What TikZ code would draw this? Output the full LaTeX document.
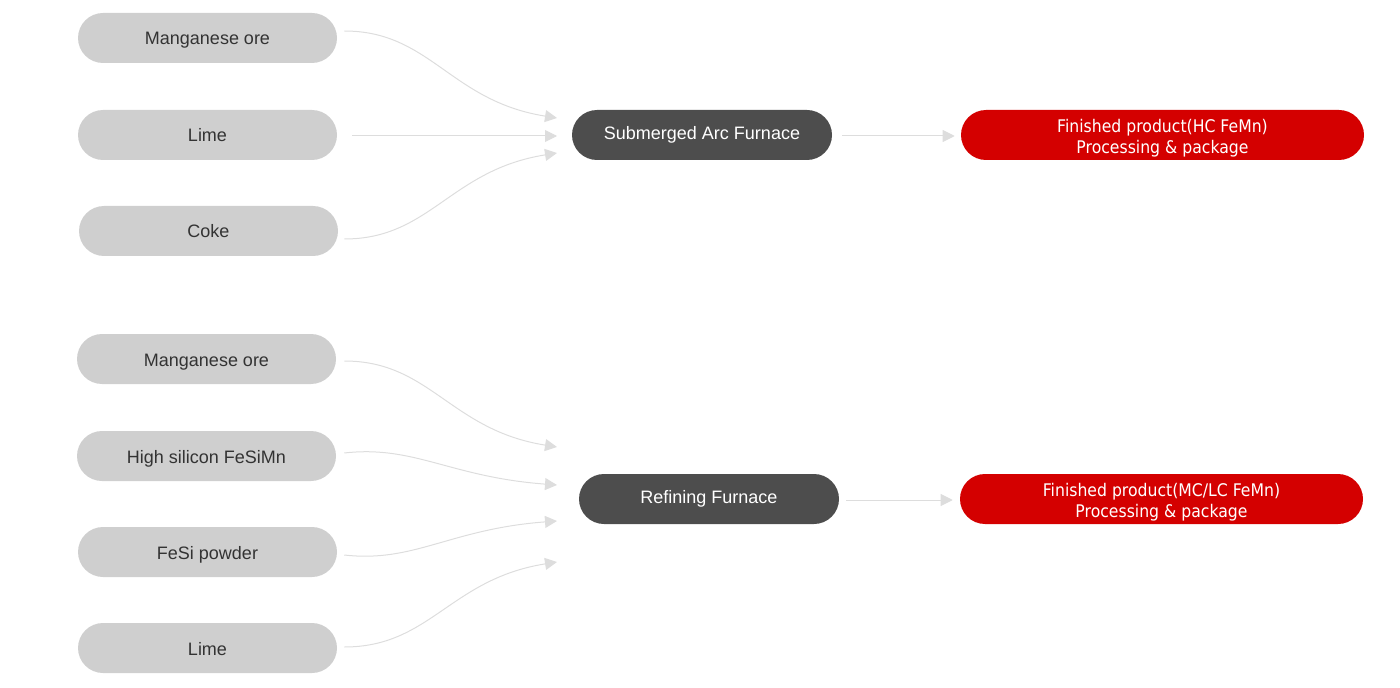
\documentclass[tikz,border=0pt]{standalone}
\usepackage{fontspec}
\setmainfont{Liberation Sans}
\newfontfamily\redfont[FakeStretch=0.9]{DejaVu Sans}
\usetikzlibrary{arrows.meta,calc}
\definecolor{boxgray}{HTML}{CFCFCF}
\definecolor{txtgray}{HTML}{333333}
\definecolor{darkbox}{HTML}{4D4D4D}
\definecolor{redbox}{HTML}{D40000}
\definecolor{linegray}{HTML}{DDDDDD}
\tikzset{
  inbox/.style={fill=boxgray, text=txtgray, rounded corners=18.75pt, minimum width=194.25pt, minimum height=37.5pt, inner sep=0pt, text height=12pt, text depth=1.5pt, font=\fontsize{13.5}{16.5}\selectfont},
  furnbox/.style={fill=darkbox, text=white, rounded corners=18.75pt, minimum width=195pt, minimum height=37.5pt, inner sep=0pt, text height=9.3pt, text depth=2.5pt, font=\fontsize{13.5}{16.5}\selectfont},
  prodbox/.style={fill=redbox, rounded corners=18.75pt, minimum width=302.25pt, minimum height=37.5pt, inner sep=0pt},
  prodtext/.style={text=white, inner sep=0pt, anchor=base, font=\redfont\fontsize{13.06}{15.75}\selectfont},
  flow/.style={draw=linegray, line width=0.75pt, -{Triangle[length=9pt,width=9pt,fill=linegray]}}
}
\begin{document}
\begin{tikzpicture}[x=0.75pt,y=-0.75pt]
\useasboundingbox (0,0) rectangle (1400,688);
% top group
\node[inbox] (m1) at (207.5,38) {Manganese ore};
\node[inbox] (l1) at (207.5,135) {Lime};
\node[inbox] (c1) at (208.5,231) {Coke};
\node[furnbox] (saf) at (702,135) {Submerged Arc Furnace};
\node[prodbox] (p1) at (1162.5,135) {};
\node[prodtext] (p1a) at ([shift={(0,-2.7)}]p1.center) {Finished product(HC FeMn)};
\node[prodtext] (p1b) at ([shift={(0,18.3)}]p1.center) {Processing \& package};
% bottom group
\node[inbox] (m2) at (206.5,359) {Manganese ore};
\node[inbox] (h2) at (206.5,456) {High silicon FeSiMn};
\node[inbox] (f2) at (207.5,552) {FeSi powder};
\node[inbox] (l2) at (207.5,648) {Lime};
\node[furnbox] (rf) at (709,499) {Refining Furnace};
\node[prodbox] (p2) at (1161.5,499) {};
\node[prodtext] (p2a) at ([shift={(0,-2.7)}]p2.center) {Finished product(MC/LC FeMn)};
\node[prodtext] (p2b) at ([shift={(0,18.3)}]p2.center) {Processing \& package};
% arrow end points
\coordinate (t1) at (557,118);
\coordinate (t2) at (557,136);
\coordinate (t3) at (557,153);
\coordinate (b1) at (557,447);
\coordinate (b2) at (557,485);
\coordinate (b3) at (557,521);
\coordinate (b4) at (557,562);
% top connectors
\draw[flow] ([shift={(7,-7)}]m1.east) .. controls +(86,0) and +(-107,-17) .. (t1);
\draw[flow] ([shift={(15,1)}]l1.east) -- (t2);
\draw[flow] ([shift={(6,8)}]c1.east) .. controls +(86,0) and +(-107,17) .. (t3);
\draw[flow] ([shift={(10,1)}]saf.east) -- ([shift={(-6,1)}]p1.west);
% bottom connectors
\draw[flow] ([shift={(8,2)}]m2.east) .. controls +(86,0) and +(-107,-17) .. (b1);
\draw[flow] ([shift={(8,-3)}]h2.east) .. controls +(70,-8) and +(-107,-8) .. (b2);
\draw[flow] ([shift={(7,3)}]f2.east) .. controls +(70,8) and +(-107,8) .. (b3);
\draw[flow] ([shift={(7,-1)}]l2.east) .. controls +(86,0) and +(-107,17) .. (b4);
\draw[flow] ([shift={(7,1)}]rf.east) -- ([shift={(-7,1)}]p2.west);
\end{tikzpicture}
\end{document}
